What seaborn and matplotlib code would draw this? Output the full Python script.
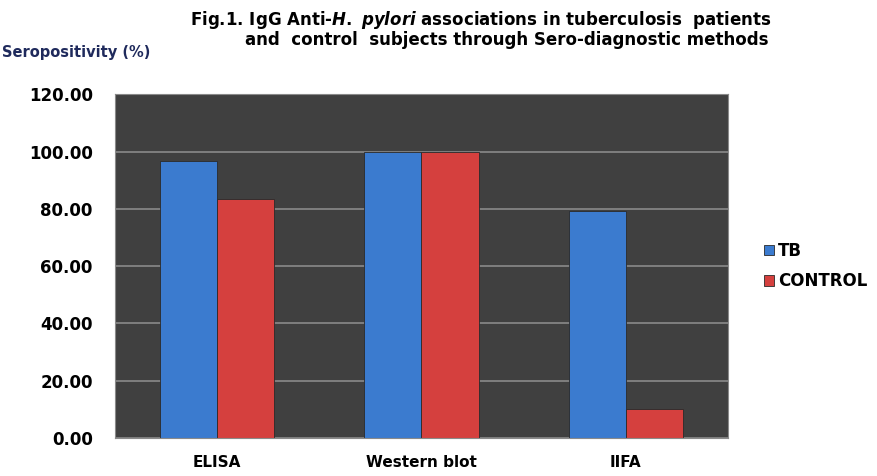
import matplotlib
matplotlib.use("Agg")
import matplotlib.pyplot as plt
import seaborn as sns
import pandas as pd

methods = ["ELISA", "Western blot", "IIFA"]
tb_values = [96.55, 100.00, 79.31]
control_values = [83.33, 100.00, 10.00]
groups = ["TB", "CONTROL"]

df = pd.DataFrame({
    "method": methods * 2,
    "group": [groups[0]] * 3 + [groups[1]] * 3,
    "value": tb_values + control_values,
})

sns.set_style("white")
plt.rcParams["font.family"] = ["DejaVu Sans"]
plt.rcParams["text.color"] = "black"
plt.rcParams["xtick.color"] = "black"
plt.rcParams["ytick.color"] = "black"
plt.rcParams["mathtext.fontset"] = "custom"
plt.rcParams["mathtext.it"] = "DejaVu Sans:italic:bold"
plt.rcParams["mathtext.rm"] = "DejaVu Sans:bold"

fig = plt.figure(figsize=(8.78, 4.76), dpi=100)
ax = fig.add_axes([0.131, 0.080, 0.698, 0.722])
ax.set_facecolor("#404040")

sns.barplot(data=df, x="method", y="value", hue="group",
            palette=["#3b7bcf", "#d5403e"], width=0.56, ax=ax,
            edgecolor="none", saturation=1, legend=True)
for p in ax.patches:
    p.set_edgecolor("#2a2a2a")
    p.set_linewidth(0.6)

ax.set_ylim(0, 120)
ax.set_yticks(range(0, 121, 20))
ax.set_yticklabels([f"{v:.2f}" for v in range(0, 121, 20)],
                   fontsize=12, fontweight="bold")
ax.set_xticks(range(3))
ax.set_xticklabels(methods, fontsize=11, fontweight="bold")
ax.tick_params(axis="x", length=0, pad=12)
ax.tick_params(axis="y", length=0, pad=16)
ax.yaxis.grid(True, color="#8a8a8a", linewidth=1.2)
ax.set_axisbelow(True)
for s in ax.spines.values():
    s.set_color("#8a8a8a")
ax.set_xlabel("")
ax.set_ylabel("")

handles, labels = ax.get_legend_handles_labels()
ax.legend(handles, labels, loc="center left", bbox_to_anchor=(1.035, 0.5),
          frameon=False, handlelength=0.6, handleheight=0.6,
          handletextpad=0.2, labelspacing=0.75,
          prop={"weight": "bold", "size": 12})

fig.text(0.548, 0.958, "Fig.1. IgG Anti-$\\it{H.\\ pylori}$ associations in tuberculosis  patients",
         ha="center", va="center", fontsize=12, fontweight="bold")
fig.text(0.577, 0.916, "and  control  subjects through Sero-diagnostic methods",
         ha="center", va="center", fontsize=12, fontweight="bold")
fig.text(0.002, 0.89, "Seropositivity (%)", ha="left", va="center",
         fontsize=10.5, fontweight="bold", color="#1f2a5c")

fig.savefig("out.png", dpi=100)
